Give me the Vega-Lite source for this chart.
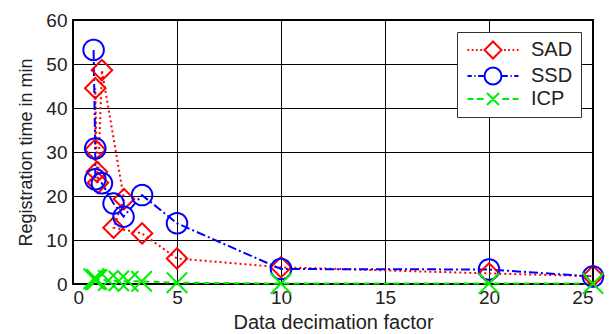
{
  "$schema": "https://vega.github.io/schema/vega-lite/v6.json",
  "width": 520,
  "height": 264,
  "autosize": "none",
  "padding": {"left": 73, "top": 20, "right": 20, "bottom": 50},
  "background": "white",
  "config": {
    "view": {"stroke": "black", "strokeWidth": 2},
    "font": "Liberation Sans",
    "axis": {
      "grid": true,
      "gridColor": "black",
      "gridOpacity": 1,
      "gridWidth": 1,
      "domain": false,
      "ticks": false,
      "labelFont": "Liberation Sans",
      "labelFontSize": 19,
      "labelColor": "#222",
      "titleFont": "Liberation Sans",
      "titleFontSize": 18,
      "titleFontWeight": "normal",
      "titleColor": "#222"
    },
    "legend": {
      "orient": "top-right",
      "offset": 12,
      "padding": 8,
      "strokeColor": "#333",
      "fillColor": "white",
      "labelFont": "Liberation Sans",
      "labelFontSize": 20,
      "labelColor": "#222",
      "symbolSize": 289,
      "symbolStrokeWidth": 2,
      "symbolFillColor": "transparent",
      "symbolOpacity": 1,
      "symbolOffset": 18,
      "labelOffset": 28,
      "rowPadding": 0
    }
  },
  "resolve": {"scale": {"shape": "independent"}, "legend": {"color": "independent", "shape": "independent"}},
  "data": {
    "values": [
      {"method": "SAD", "o": 1, "f": 1.07, "t": 30.5},
      {"method": "SAD", "o": 2, "f": 1.07, "t": 44.5},
      {"method": "SAD", "o": 3, "f": 1.15, "t": 25.5},
      {"method": "SAD", "o": 4, "f": 1.2, "t": 23.0},
      {"method": "SAD", "o": 5, "f": 1.39, "t": 48.6},
      {"method": "SAD", "o": 6, "f": 2.45, "t": 19.3},
      {"method": "SAD", "o": 7, "f": 1.95, "t": 12.8},
      {"method": "SAD", "o": 8, "f": 3.32, "t": 11.5},
      {"method": "SAD", "o": 9, "f": 5, "t": 5.8},
      {"method": "SAD", "o": 10, "f": 10, "t": 3.8},
      {"method": "SAD", "o": 11, "f": 20, "t": 2.4},
      {"method": "SAD", "o": 12, "f": 25, "t": 1.8},
      {"method": "SSD", "o": 1, "f": 0.99, "t": 53.2},
      {"method": "SSD", "o": 2, "f": 1.07, "t": 30.8},
      {"method": "SSD", "o": 3, "f": 1.07, "t": 23.8},
      {"method": "SSD", "o": 4, "f": 1.39, "t": 22.9},
      {"method": "SSD", "o": 5, "f": 1.95, "t": 18.3},
      {"method": "SSD", "o": 6, "f": 2.43, "t": 15.3},
      {"method": "SSD", "o": 7, "f": 3.32, "t": 20.2},
      {"method": "SSD", "o": 8, "f": 5, "t": 13.8},
      {"method": "SSD", "o": 9, "f": 10, "t": 3.4},
      {"method": "SSD", "o": 10, "f": 20, "t": 3.3},
      {"method": "SSD", "o": 11, "f": 25, "t": 1.7},
      {"method": "ICP", "o": 1, "f": 1.0, "t": 1.2},
      {"method": "ICP", "o": 2, "f": 1.07, "t": 1.0},
      {"method": "ICP", "o": 3, "f": 1.15, "t": 1.0},
      {"method": "ICP", "o": 4, "f": 1.7, "t": 0.8},
      {"method": "ICP", "o": 5, "f": 2.2, "t": 0.7},
      {"method": "ICP", "o": 6, "f": 2.65, "t": 0.6},
      {"method": "ICP", "o": 7, "f": 3.3, "t": 0.6},
      {"method": "ICP", "o": 8, "f": 5, "t": 0.3},
      {"method": "ICP", "o": 9, "f": 10, "t": 0.1},
      {"method": "ICP", "o": 10, "f": 20, "t": 0.1},
      {"method": "ICP", "o": 11, "f": 25, "t": 0.1}
    ]
  },
  "encoding": {
    "x": {
      "field": "f", "type": "quantitative",
      "scale": {"domain": [0, 25], "nice": false, "zero": false},
      "axis": {"values": [0, 5, 10, 15, 20, 25], "title": "Data decimation factor", "titleFontSize": 20, "labelPadding": 4, "titlePadding": 5}
    },
    "y": {
      "field": "t", "type": "quantitative",
      "scale": {"domain": [0, 60], "nice": false},
      "axis": {"values": [0, 10, 20, 30, 40, 50, 60], "title": "Registration time in min", "labelPadding": 6, "titlePadding": 10}
    }
  },
  "layer": [
    {
      "mark": {"type": "line", "strokeWidth": 2},
      "encoding": {
        "order": {"field": "o", "type": "quantitative"},
        "color": {
          "field": "method", "type": "nominal",
          "scale": {"domain": ["SAD", "SSD", "ICP"], "range": ["#ff0000", "#0000ff", "#00ee00"]},
          "legend": null
        },
        "strokeDash": {
          "field": "method", "type": "nominal",
          "scale": {"domain": ["SAD", "SSD", "ICP"], "range": [[2, 3], [9, 3, 2, 3], [6, 4]]},
          "legend": null
        }
      }
    },
    {
      "mark": {"type": "point", "filled": false, "strokeWidth": 2, "opacity": 1, "strokeDash": [1, 0]},
      "encoding": {
        "color": {"field": "method", "type": "nominal", "legend": null},
        "shape": {
          "field": "method", "type": "nominal",
          "scale": {"domain": ["SAD", "SSD", "ICP"], "range": ["M0,-1L1,0L0,1L-1,0Z", "M1,0A1,1 0 1,1 -1,0A1,1 0 1,1 1,0Z", "M-1,-1L1,1M-1,1L1,-1"]},
          "legend": null
        },
        "size": {
          "field": "method", "type": "nominal",
          "scale": {"domain": ["SAD", "SSD", "ICP"], "range": [420, 420, 110]},
          "legend": null
        }
      }
    },
    {
      "mark": {"type": "point", "filled": false, "strokeWidth": 2, "opacity": 0, "strokeDash": [1, 0]},
      "encoding": {
        "color": {"field": "method", "type": "nominal", "legend": {"title": null}},
        "shape": {
          "field": "method", "type": "nominal",
          "scale": {"domain": ["SAD", "SSD", "ICP"], "range": [
            "M-3,0L-2.8,0M-2.5,0L-2.3,0M-2,0L-1.8,0M-1.5,0L-1.3,0M1.3,0L1.5,0M1.8,0L2,0M2.3,0L2.5,0M2.8,0L3,0M0,-1L1,0L0,1L-1,0Z",
            "M-3,0L-2.5,0M-2.2,0L-2.05,0M-1.75,0L-1.1,0M1.1,0L1.75,0M2.05,0L2.2,0M2.5,0L3,0M1,0A1,1 0 1,1 -1,0A1,1 0 1,1 1,0Z",
            "M-3,0L-2.3,0M-1.9,0L-1.1,0M1.1,0L1.9,0M2.3,0L3,0M-0.7,-0.7L0.7,0.7M-0.7,0.7L0.7,-0.7"
          ]},
          "legend": {"title": null}
        }
      }
    }
  ]
}
